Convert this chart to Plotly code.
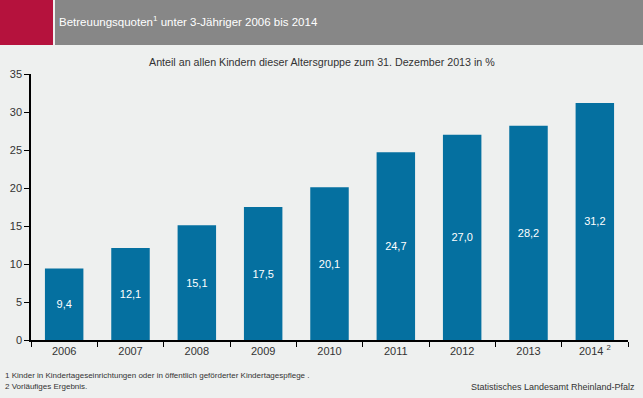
import plotly.graph_objects as go

years = ["2006", "2007", "2008", "2009", "2010", "2011", "2012", "2013", "2014"]
tick_labels = ["2006", "2007", "2008", "2009", "2010", "2011", "2012", "2013", "2014 <sup>2</sup>"]
values = [9.4, 12.1, 15.1, 17.5, 20.1, 24.7, 27.0, 28.2, 31.2]
value_labels = [f"{v:.1f}".replace(".", ",") for v in values]

FONT = "Liberation Sans, Arial, sans-serif"
BG = "#eef0ef"
W, H = 597, 266  # plot area in pixels

fig = go.Figure(go.Bar(
    x=years, y=values, text=value_labels, textposition="inside",
    insidetextanchor="middle", textangle=0,
    textfont=dict(color="white", size=11, family=FONT),
    marker=dict(color="#0570a0", line=dict(width=0)),
    hoverinfo="skip",
))

fig.update_layout(
    width=643, height=398,
    margin=dict(l=31, r=15, t=74, b=58, autoexpand=False),
    paper_bgcolor=BG, plot_bgcolor=BG,
    bargap=0.42,
    showlegend=False,
    font=dict(family=FONT, size=11, color="#333333"),
    shapes=[
        dict(type="rect", xref="paper", yref="paper", x0=-31/W, x1=22/W,
             y0=1 + 29/H, y1=1 + 74/H, fillcolor="#b5123d", line=dict(width=0), layer="above"),
        dict(type="rect", xref="paper", yref="paper", x0=24/W, x1=612/W,
             y0=1 + 29/H, y1=1 + 74/H, fillcolor="#878787", line=dict(width=0), layer="above"),
    ],
    annotations=[
        dict(text="Betreuungsquoten<sup>1</sup> unter 3-Jähriger 2006 bis 2014",
             xref="paper", yref="paper", x=26/W, y=1 + 53/H, xanchor="left", yanchor="middle",
             showarrow=False, font=dict(color="white", size=11.5, family=FONT)),
        dict(text="Anteil an allen Kindern dieser Altersgruppe zum 31. Dezember 2013 in %",
             xref="paper", yref="paper", x=291/W, y=1 + 12/H, xanchor="center", yanchor="middle",
             showarrow=False, font=dict(color="#333333", size=10.7, family=FONT)),
        dict(text="1 Kinder in Kindertageseinrichtungen oder in öffentlich geförderter Kindertagespflege .",
             xref="paper", yref="paper", x=-28/W, y=-35/H, xanchor="left", yanchor="middle",
             showarrow=False, font=dict(color="#333333", size=8, family=FONT)),
        dict(text="2 Vorläufiges Ergebnis.",
             xref="paper", yref="paper", x=-28/W, y=-46/H, xanchor="left", yanchor="middle",
             showarrow=False, font=dict(color="#333333", size=8, family=FONT)),
        dict(text="Statistisches Landesamt Rheinland-Pfalz",
             xref="paper", yref="paper", x=606/W, y=-47/H, xanchor="right", yanchor="middle",
             showarrow=False, font=dict(color="#333333", size=9, family=FONT)),
    ],
)

fig.update_xaxes(
    tickmode="array", tickvals=years, ticktext=tick_labels,
    tickson="boundaries", ticks="outside", ticklen=5, tickcolor="black",
    showline=True, linecolor="black", linewidth=1.5, automargin=False,
    showgrid=False, tickfont=dict(size=11, color="#333333"),
)
fig.update_yaxes(
    range=[0, 35], dtick=5, ticks="outside", ticklen=5, tickcolor="black",
    showline=True, linecolor="black", linewidth=1.5, automargin=False,
    showgrid=False, zeroline=False, tickfont=dict(size=11, color="#333333"),
)

fig.write_html("out.html", config={"displayModeBar": False},
               post_script="document.body.style.margin='0';")
